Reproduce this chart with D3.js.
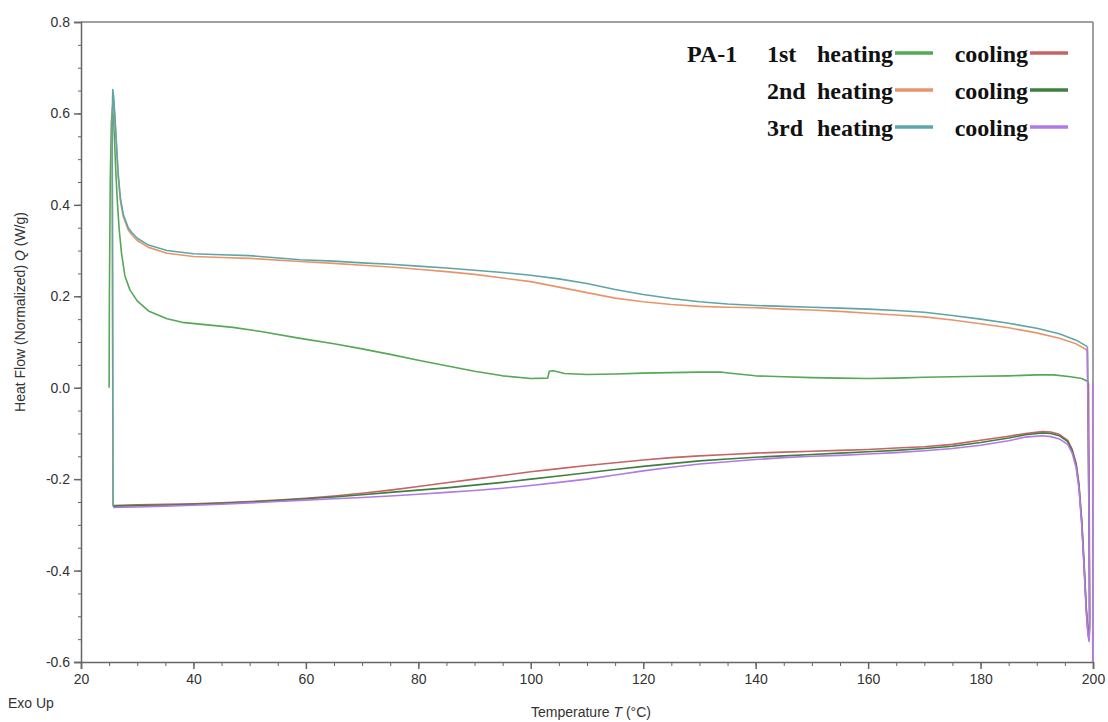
<!DOCTYPE html>
<html>
<head>
<meta charset="utf-8">
<script src="https://cdn.jsdelivr.net/npm/d3@7"></script>
<style>
  body { margin: 0; background: #fff; }
  svg { display: block; }
  .tick text { font-family: "Liberation Sans", Arial, sans-serif; font-size: 14px; fill: #333; }
  .leg { font-family: "Liberation Serif", "Times New Roman", serif; font-weight: bold; font-size: 24px; fill: #111; }
</style>
</head>
<body>
<script>
// temperature (°C), heat flow (W/g), in the order the instrument recorded them
var heating1 = [[25.0,0.0],[25.05,0.2],[25.2,0.45],[25.4,0.58],[25.6,0.615],[25.8,0.585],[26.0,0.53],[26.2,0.47],[26.5,0.4],[26.8,0.345],[27.2,0.295],[27.8,0.245],[28.7,0.214],[30,0.19],[32,0.168],[35.3,0.151],[38,0.143],[42,0.138],[47,0.132],[52,0.123],[59,0.108],[65,0.096],[70,0.085],[75,0.073],[80,0.06],[85,0.048],[90,0.036],[95,0.026],[100,0.02],[103,0.021],[103.3,0.036],[104,0.037],[106,0.031],[110,0.029],[115,0.03],[120,0.032],[125,0.033],[130,0.034],[134,0.034],[136,0.031],[140,0.026],[145,0.024],[150,0.022],[155,0.021],[160,0.02],[165,0.021],[170,0.023],[175,0.024],[180,0.025],[185,0.026],[190,0.028],[193,0.028],[196,0.024],[198,0.02],[199,0.014],[199.2,0.01]];
var cooling1 = [[199.2,0.01],[199.35,-0.3],[199.4,-0.5],[199.3,-0.545],[199.1,-0.53],[198.8,-0.48],[198.4,-0.38],[198,-0.29],[197.5,-0.21],[197,-0.165],[196.3,-0.135],[195.5,-0.115],[194,-0.102],[192.5,-0.097],[191,-0.096],[188,-0.1],[185,-0.106],[180,-0.115],[175,-0.124],[170,-0.129],[165,-0.132],[160,-0.135],[155,-0.137],[150,-0.139],[145,-0.141],[140,-0.143],[135,-0.146],[130,-0.149],[125,-0.153],[120,-0.158],[115,-0.164],[110,-0.17],[105,-0.177],[100,-0.184],[95,-0.192],[90,-0.2],[85,-0.208],[80,-0.216],[75,-0.224],[70,-0.231],[65,-0.237],[60,-0.242],[55,-0.246],[50,-0.249],[45,-0.252],[40,-0.254],[35,-0.255],[30,-0.256],[27,-0.257],[25.7,-0.258]];
var heating2 = [[25.7,-0.258],[25.6,0.3],[25.55,0.55],[25.65,0.645],[25.8,0.63],[26.0,0.595],[26.3,0.53],[26.6,0.465],[27,0.41],[27.5,0.375],[28.4,0.345],[29,0.335],[30,0.322],[32,0.307],[35.3,0.294],[40,0.287],[45,0.285],[50,0.283],[59,0.276],[65,0.272],[70,0.268],[75,0.264],[80,0.259],[85,0.254],[90,0.248],[95,0.24],[100,0.232],[105,0.22],[110,0.208],[115,0.196],[120,0.188],[125,0.182],[130,0.178],[135,0.176],[140,0.175],[145,0.172],[150,0.17],[155,0.167],[160,0.163],[165,0.159],[170,0.155],[175,0.148],[180,0.14],[185,0.131],[190,0.12],[194,0.108],[197,0.096],[199,0.082]];
var cooling2 = [[199,0.082],[199.3,-0.3],[199.4,-0.52],[199.3,-0.55],[199.1,-0.535],[198.8,-0.485],[198.4,-0.385],[198,-0.295],[197.5,-0.215],[197,-0.17],[196.3,-0.138],[195.5,-0.118],[194,-0.105],[192.5,-0.1],[191,-0.099],[188,-0.103],[185,-0.11],[180,-0.12],[175,-0.128],[170,-0.133],[165,-0.137],[160,-0.14],[155,-0.143],[150,-0.146],[145,-0.149],[140,-0.152],[135,-0.156],[130,-0.16],[125,-0.166],[120,-0.172],[115,-0.179],[110,-0.186],[105,-0.193],[100,-0.2],[95,-0.207],[90,-0.213],[85,-0.219],[80,-0.224],[75,-0.229],[70,-0.234],[65,-0.239],[60,-0.243],[55,-0.247],[50,-0.25],[45,-0.253],[40,-0.255],[35,-0.257],[30,-0.258],[25.7,-0.259]];
var heating3 = [[25.7,-0.26],[25.6,0.3],[25.55,0.55],[25.65,0.652],[25.8,0.637],[26.0,0.6],[26.3,0.535],[26.6,0.47],[27,0.415],[27.5,0.38],[28.4,0.35],[29,0.34],[30,0.327],[32,0.312],[35.3,0.3],[40,0.293],[45,0.291],[50,0.289],[59,0.28],[65,0.277],[70,0.273],[75,0.27],[80,0.266],[85,0.262],[90,0.257],[95,0.252],[100,0.246],[105,0.238],[110,0.228],[115,0.215],[120,0.204],[125,0.195],[130,0.188],[135,0.183],[140,0.18],[145,0.178],[150,0.176],[155,0.174],[160,0.172],[165,0.169],[170,0.165],[175,0.158],[180,0.15],[185,0.141],[190,0.13],[194,0.118],[197,0.104],[199,0.09]];
var cooling3 = [[199,0.09],[199.3,-0.3],[199.4,-0.53],[199.3,-0.555],[199.1,-0.54],[198.8,-0.49],[198.4,-0.39],[198,-0.3],[197.5,-0.22],[197,-0.175],[196.3,-0.143],[195.5,-0.124],[194,-0.112],[192.5,-0.107],[191,-0.105],[188,-0.108],[185,-0.116],[180,-0.126],[175,-0.133],[170,-0.138],[165,-0.142],[160,-0.145],[155,-0.148],[150,-0.15],[145,-0.153],[140,-0.157],[135,-0.162],[130,-0.167],[125,-0.174],[120,-0.182],[115,-0.191],[110,-0.2],[105,-0.207],[100,-0.214],[95,-0.22],[90,-0.225],[85,-0.229],[80,-0.233],[75,-0.237],[70,-0.24],[65,-0.243],[60,-0.246],[55,-0.249],[50,-0.252],[45,-0.255],[40,-0.257],[35,-0.259],[30,-0.261],[25.7,-0.262]];
// extra vertical trace at the 200 °C end
var endTrace = [[199.95,0.01],[199.95,-0.6]];

var xTicks = [20,40,60,80,100,120,140,160,180,200];
var yTicks = [-0.6,-0.4,-0.2,0.0,0.2,0.4,0.6,0.8];
var runs = ["1st","2nd","3rd"];

var width = 1108, height = 722;
var x = d3.scaleLinear().domain([20,200]).range([81,1093]);
var y = d3.scaleLinear().domain([-0.6,0.8]).range([662,22]);

var svg = d3.select("body").append("svg")
    .attr("width", width)
    .attr("height", height);

// frame: top and right border
svg.append("line").attr("x1", x(20)).attr("x2", x(200)).attr("y1", y(0.8)).attr("y2", y(0.8))
   .attr("stroke", "#808080").attr("stroke-width", 1.5);
svg.append("line").attr("x1", x(200)).attr("x2", x(200)).attr("y1", y(0.8)).attr("y2", y(-0.6))
   .attr("stroke", "#808080").attr("stroke-width", 1.5);

// x axis, minor ticks every 5
svg.append("g").attr("transform", "translate(0," + y(-0.6) + ")")
   .call(d3.axisBottom(x).tickValues(d3.range(20, 201, 5)).tickSize(4).tickFormat(""))
   .call(function(g){ g.select(".domain").remove(); g.selectAll("line").attr("stroke", "#666"); });
svg.append("g").attr("transform", "translate(0," + y(-0.6) + ")")
   .call(d3.axisBottom(x).tickValues(xTicks).tickSize(7).tickPadding(5).tickFormat(d3.format("d")))
   .call(function(g){ g.selectAll("line, path").attr("stroke", "#666").attr("stroke-width", 1.5); });

// y axis, minor ticks every 0.05
var fmtY = function(d){ return d3.format(".1f")(d).replace("\u2212", "-"); };
svg.append("g").attr("transform", "translate(" + x(20) + ",0)")
   .call(d3.axisLeft(y).tickValues(d3.range(-12, 17).map(function(k){ return k * 0.05; })).tickSize(3).tickFormat(""))
   .call(function(g){ g.select(".domain").remove(); g.selectAll("line").attr("stroke", "#666"); });
svg.append("g").attr("transform", "translate(" + x(20) + ",0)")
   .call(d3.axisLeft(y).tickValues(yTicks).tickSize(7).tickPadding(4).tickFormat(fmtY))
   .call(function(g){ g.selectAll("line, path").attr("stroke", "#666").attr("stroke-width", 1.5); });

// curves
var line = d3.line().x(function(d){ return x(d[0]); }).y(function(d){ return y(d[1]); });
var series = [
  {data: endTrace, color: "#b27ae6"},
  {data: heating1, color: "#55a855"},
  {data: cooling1, color: "#c46464"},
  {data: heating2, color: "#e8956a"},
  {data: cooling2, color: "#3f7f3f"},
  {data: heating3, color: "#5ea6a6"},
  {data: cooling3, color: "#b27ae6"}
];
svg.append("g").selectAll("path").data(series).enter().append("path")
   .attr("d", function(d){ return line(d.data); })
   .attr("fill", "none")
   .attr("stroke", function(d){ return d.color; })
   .attr("stroke-width", 1.6)
   .attr("stroke-linejoin", "round");

// axis titles
svg.append("text").attr("x", 8).attr("y", 708)
   .style("font-family", "Liberation Sans, Arial, sans-serif").style("font-size", "14px").style("fill", "#333")
   .text("Exo Up");
var xt = svg.append("text").attr("x", 591).attr("y", 717).attr("text-anchor", "middle")
   .style("font-family", "Liberation Sans, Arial, sans-serif").style("font-size", "14px").style("fill", "#333");
xt.append("tspan").text("Temperature ");
xt.append("tspan").style("font-style", "italic").text("T");
xt.append("tspan").text(" (°C)");

var yt = svg.append("text").attr("transform", "translate(25,312) rotate(-90)").attr("text-anchor", "middle")
   .style("font-family", "Liberation Sans, Arial, sans-serif").style("font-size", "14px").style("fill", "#333");
yt.append("tspan").text("Heat Flow (Normalized) ");
yt.append("tspan").style("font-style", "italic").text("Q");
yt.append("tspan").text(" (W/g)");

// legend
var legend = svg.append("g");
legend.append("text").attr("class", "leg").attr("x", 687).attr("y", 62).text("PA-1");
var rowY = [53, 90, 127];
var heatColors = ["#55a855", "#e8956a", "#5ea6a6"];
var coolColors = ["#c46464", "#3f7f3f", "#b27ae6"];
runs.forEach(function(r, i){
  var g = legend.append("g");
  g.append("text").attr("class", "leg").attr("x", 767).attr("y", rowY[i] + 9).text(r);
  g.append("text").attr("class", "leg").attr("x", 893).attr("y", rowY[i] + 9).attr("text-anchor", "end").text("heating");
  g.append("line").attr("x1", 895).attr("x2", 933).attr("y1", rowY[i]).attr("y2", rowY[i])
   .attr("stroke", heatColors[i]).attr("stroke-width", 3.5);
  g.append("text").attr("class", "leg").attr("x", 1028).attr("y", rowY[i] + 9).attr("text-anchor", "end").text("cooling");
  g.append("line").attr("x1", 1030).attr("x2", 1068).attr("y1", rowY[i]).attr("y2", rowY[i])
   .attr("stroke", coolColors[i]).attr("stroke-width", 3.5);
});
</script>
</body>
</html>
